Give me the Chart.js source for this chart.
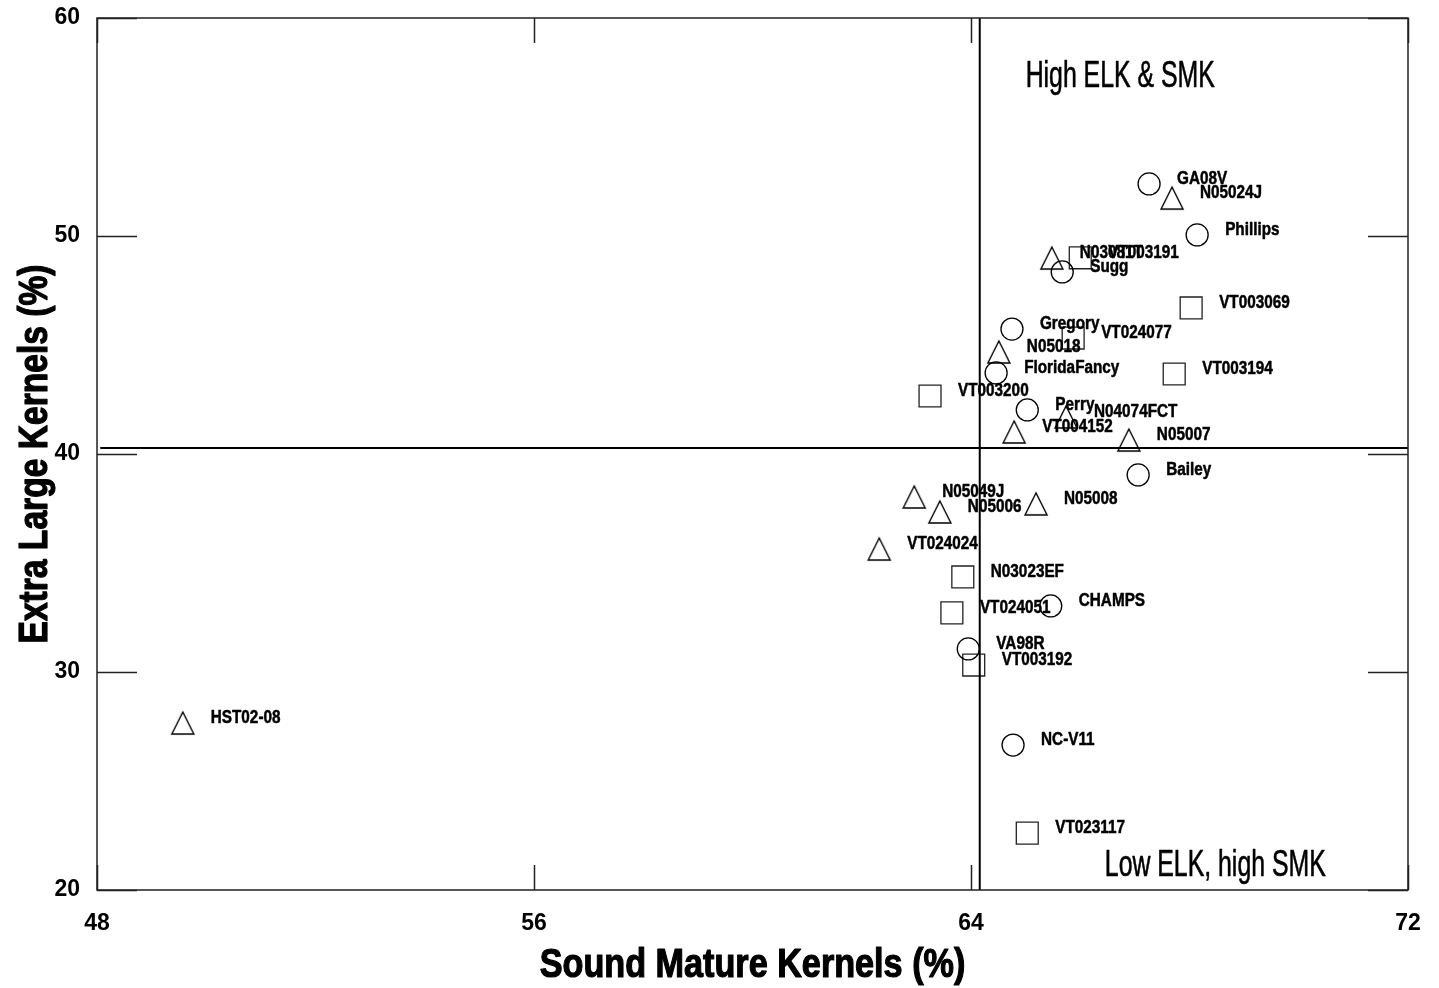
<!DOCTYPE html>
<html>
<head>
<meta charset="utf-8">
<title>Extra Large Kernels vs Sound Mature Kernels</title>
<script src="https://cdn.jsdelivr.net/npm/chart.js@4/dist/chart.umd.min.js"></script>
<style>
  html, body { margin: 0; padding: 0; background: #ffffff; }
  #wrap { width: 1439px; height: 988px; }
</style>
</head>
<body>
<div id="wrap"><canvas id="chart" width="1439" height="988"></canvas></div>
<script>
// Circle group
const circleNames = ['GA08V', 'Phillips', 'Sugg', 'Gregory', 'FloridaFancy', 'Perry', 'Bailey', 'CHAMPS', 'VA98R', 'NC-V11'];
const circleSMK   = [67.26, 68.14, 65.67, 64.75, 64.46, 65.03, 67.06, 65.46, 63.95, 64.77];
const circleELK   = [52.39, 50.05, 48.35, 45.73, 43.72, 42.02, 39.04, 33.03, 31.06, 26.65];

// Triangle group
const triangleNames = ['N05024J', 'N03081T', 'N05018', 'N04074FCT', 'VT004152', 'N05007', 'N05049J', 'N05006', 'N05008', 'VT024024', 'HST02-08'];
const triangleSMK   = [67.68, 65.48, 64.51, 65.74, 64.79, 66.89, 62.96, 63.43, 65.19, 62.32, 49.57];
const triangleELK   = [51.74, 48.99, 44.68, 41.70, 41.01, 40.64, 38.03, 37.34, 37.71, 35.64, 27.66];

// Square group
const squareNames = ['VT003191', 'VT003069', 'VT024077', 'VT003194', 'VT003200', 'N03023EF', 'VT024051', 'VT003192', 'VT023117'];
const squareSMK   = [66.00, 68.03, 65.87, 67.72, 63.25, 63.85, 63.65, 64.05, 65.03];
const squareELK   = [49.00, 46.70, 45.32, 43.67, 42.66, 34.36, 32.71, 30.32, 22.61];

// Quadrant dividers (group means)
const meanSMK = 64.16;
const meanELK = 40.28;

// Axis ranges and tick steps
const xRange = [48, 72];
const yRange = [20, 60];
const xStep = 8;
const yStep = 10;

// Axis titles
const xTitle = 'Sound Mature Kernels (%)';
const yTitle = 'Extra Large Kernels (%)';

// Quadrant captions and their anchor points (data units, left edge / middle)
const quadrantText = ['High ELK & SMK', 'Low ELK, high SMK'];
const quadrantX = [65.0, 66.45];
const quadrantY = [57.3, 21.1];

const sans = '"Liberation Sans", Arial, "DejaVu Sans", sans-serif';

function toPoints(xs, ys) { return xs.map((x, i) => ({ x: x, y: ys[i] })); }

// Draw text squeezed horizontally to give a condensed face; optional outline thickens it
function condensedText(ctx, text, x, y, sx, align, weight) {
  ctx.save();
  ctx.translate(x, y);
  ctx.scale(sx, 1);
  ctx.textAlign = align;
  ctx.fillText(text, 0, 0);
  if (weight) {
    ctx.lineWidth = weight;
    ctx.strokeStyle = ctx.fillStyle;
    ctx.lineJoin = 'round';
    ctx.strokeText(text, 0, 0);
  }
  ctx.restore();
}

// Open triangle marker centred on its bounding box
function triangleMarker(size) {
  const c = document.createElement('canvas');
  c.width = size + 4; c.height = size + 4;
  const g = c.getContext('2d');
  g.strokeStyle = '#000';
  g.lineWidth = 1.4;
  g.beginPath();
  g.moveTo(2, size + 2);
  g.lineTo(size + 2, size + 2);
  g.lineTo(size / 2 + 2, 2);
  g.closePath();
  g.stroke();
  return c;
}

const pointLabels = {
  id: 'pointLabels',
  afterDatasetsDraw(chart) {
    const ctx = chart.ctx;
    ctx.save();
    ctx.font = 'bold 18px ' + sans;
    ctx.fillStyle = '#000';
    ctx.textBaseline = 'middle';
    chart.data.datasets.forEach((ds, di) => {
      if (!ds.names) return;
      const meta = chart.getDatasetMeta(di);
      meta.data.forEach((el, i) => {
        condensedText(ctx, ds.names[i], el.x + 28, el.y - 5, 0.85, 'left', 0.5);
      });
    });
    ctx.restore();
  }
};

const frameAndTicks = {
  id: 'frameAndTicks',
  afterDraw(chart) {
    const { ctx, chartArea: a, scales } = chart;
    ctx.save();
    ctx.strokeStyle = '#222';
    ctx.lineWidth = 1.5;
    ctx.strokeRect(a.left, a.top, a.right - a.left, a.bottom - a.top);
    ctx.beginPath();
    scales.x.ticks.forEach(t => {
      const px = Math.round(scales.x.getPixelForValue(t.value)) + 0.5;
      ctx.moveTo(px, a.top); ctx.lineTo(px, a.top + 25);
      ctx.moveTo(px, a.bottom); ctx.lineTo(px, a.bottom - 25);
    });
    scales.y.ticks.forEach(t => {
      const py = Math.round(scales.y.getPixelForValue(t.value)) + 0.5;
      ctx.moveTo(a.left, py); ctx.lineTo(a.left + 40, py);
      ctx.moveTo(a.right, py); ctx.lineTo(a.right - 40, py);
    });
    ctx.stroke();

    ctx.fillStyle = '#000';
    ctx.textBaseline = 'middle';

    // quadrant captions
    ctx.font = '36px ' + sans;
    quadrantText.forEach((txt, i) => {
      condensedText(ctx, txt, scales.x.getPixelForValue(quadrantX[i]),
        scales.y.getPixelForValue(quadrantY[i]), 0.69, 'left', 0.6);
    });

    // axis titles
    ctx.font = 'bold 40px ' + sans;
    condensedText(ctx, xTitle, (a.left + a.right) / 2, 966, 0.855, 'center', 1.2);
    ctx.save();
    ctx.translate(36, (a.top + a.bottom) / 2);
    ctx.rotate(-Math.PI / 2);
    condensedText(ctx, yTitle, 0, 0, 0.84, 'center', 1.2);
    ctx.restore();
    ctx.restore();
  }
};

new Chart(document.getElementById('chart'), {
  type: 'scatter',
  data: {
    datasets: [
      {
        type: 'line',
        data: [{ x: meanSMK, y: yRange[0] }, { x: meanSMK, y: yRange[1] }],
        borderColor: '#000', borderWidth: 2, pointRadius: 0, fill: false
      },
      {
        type: 'line',
        data: [{ x: 48.06, y: meanELK }, { x: xRange[1], y: meanELK }],
        borderColor: '#000', borderWidth: 2, pointRadius: 0, fill: false
      },
      {
        names: circleNames,
        data: toPoints(circleSMK, circleELK),
        pointStyle: 'circle', pointRadius: 11, pointHoverRadius: 11,
        borderColor: '#000', borderWidth: 1.3, backgroundColor: 'rgba(0,0,0,0)'
      },
      {
        names: triangleNames,
        data: toPoints(triangleSMK, triangleELK),
        pointStyle: triangleMarker(22), pointRadius: 11, pointHoverRadius: 11,
        borderColor: '#000', backgroundColor: 'rgba(0,0,0,0)'
      },
      {
        names: squareNames,
        data: toPoints(squareSMK, squareELK),
        pointStyle: 'rect', pointRadius: 15.5, pointHoverRadius: 15.5,
        borderColor: '#222', borderWidth: 1.3, backgroundColor: 'rgba(0,0,0,0)'
      }
    ]
  },
  options: {
    responsive: false,
    animation: false,
    devicePixelRatio: 1,
    layout: { padding: { top: 18, right: 31, left: 0, bottom: 0 } },
    plugins: { legend: { display: false }, tooltip: { enabled: false } },
    scales: {
      x: {
        type: 'linear', min: xRange[0], max: xRange[1],
        afterFit(s) { s.height = 98; s.paddingLeft = 0; s.paddingRight = 0; },
        grid: { display: false, drawTicks: false },
        border: { display: false },
        ticks: {
          stepSize: xStep, padding: 20, color: '#000',
          font: { family: sans, size: 23, weight: 'bold' }
        },
        title: { display: false }
      },
      y: {
        type: 'linear', min: yRange[0], max: yRange[1],
        afterFit(s) { s.width = 97; s.paddingTop = 0; s.paddingBottom = 0; },
        grid: { display: false, drawTicks: false },
        border: { display: false },
        ticks: {
          stepSize: yStep, padding: 17, color: '#000',
          font: { family: sans, size: 23, weight: 'bold' }
        },
        title: { display: false }
      }
    }
  },
  plugins: [pointLabels, frameAndTicks]
});
</script>
</body>
</html>
